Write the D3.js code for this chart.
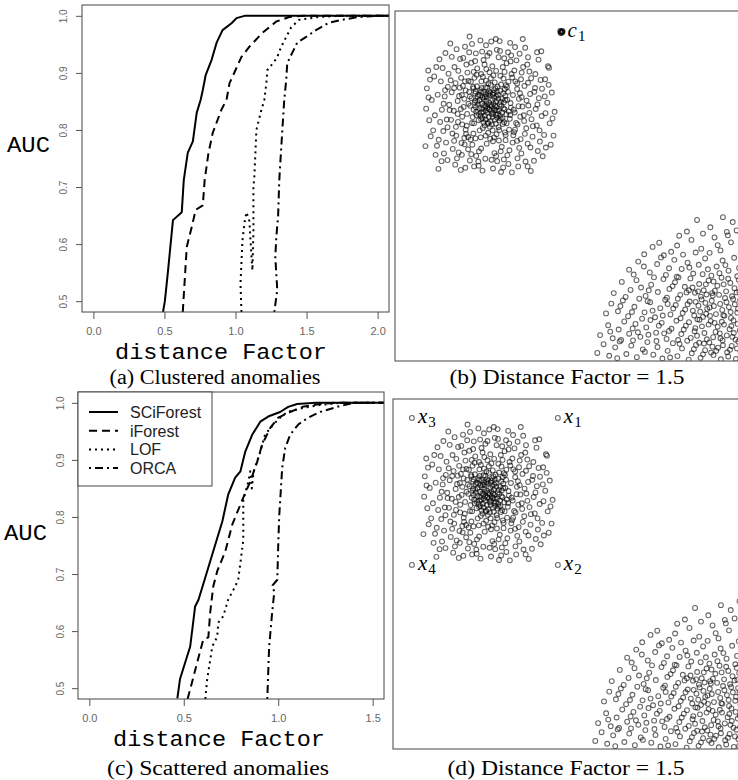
<!DOCTYPE html>
<html>
<head>
<meta charset="utf-8">
<script src="https://cdn.jsdelivr.net/npm/d3@7"></script>
<style>
body { margin: 0; background: #fff; }
</style>
</head>
<body>
<script>
//Width and height
var w = 738;
var h = 780;

//Tick values
var aucTicks = [0.5, 0.6, 0.7, 0.8, 0.9, 1.0];
var factorTicksA = [0.0, 0.5, 1.0, 1.5, 2.0];
var factorTicksC = [0.0, 0.5, 1.0, 1.5];
var methods = ["SCiForest", "iForest", "LOF", "ORCA"];

//(a) clustered anomalies: [distance factor, AUC]
var aSci = [[0.49,0.481],[0.503,0.50],[0.524,0.55],[0.56,0.642],[0.622,0.656],[0.636,0.712],[0.664,0.76],[0.70,0.78],[0.727,0.83],[0.755,0.853],[0.77,0.87],[0.79,0.896],[0.832,0.923],[0.867,0.953],[0.909,0.975],[0.972,0.987],[1.007,0.996],[1.063,1.0],[2.08,1.0]];
var aIf = [[0.629,0.481],[0.657,0.595],[0.692,0.63],[0.72,0.66],[0.77,0.668],[0.783,0.712],[0.81,0.76],[0.84,0.795],[0.90,0.835],[0.937,0.853],[0.958,0.882],[1.042,0.928],[1.098,0.946],[1.189,0.97],[1.287,0.99],[1.378,0.998],[1.48,1.0],[2.08,1.0]];
var aLof = [[1.042,0.481],[1.035,0.53],[1.049,0.607],[1.063,0.637],[1.077,0.656],[1.098,0.64],[1.112,0.58],[1.119,0.554],[1.126,0.62],[1.126,0.70],[1.133,0.72],[1.147,0.80],[1.182,0.835],[1.203,0.853],[1.217,0.882],[1.224,0.905],[1.273,0.92],[1.294,0.928],[1.322,0.946],[1.357,0.963],[1.392,0.98],[1.448,0.993],[1.587,0.998],[1.727,1.0],[2.08,1.0]];
var aOrca = [[1.273,0.481],[1.294,0.52],[1.28,0.577],[1.287,0.612],[1.30,0.65],[1.308,0.712],[1.322,0.77],[1.343,0.853],[1.357,0.888],[1.364,0.917],[1.399,0.935],[1.434,0.953],[1.497,0.963],[1.566,0.975],[1.657,0.988],[1.748,0.993],[1.867,0.998],[2.007,1.0],[2.08,1.0]];

//(c) scattered anomalies: [distance factor, AUC]
var cSci = [[0.466,0.482],[0.48,0.516],[0.534,0.573],[0.56,0.643],[0.578,0.655],[0.603,0.682],[0.656,0.74],[0.704,0.792],[0.735,0.839],[0.772,0.869],[0.80,0.88],[0.825,0.914],[0.862,0.944],[0.905,0.967],[0.947,0.976],[1.01,0.984],[1.053,0.993],[1.10,0.998],[1.2,1.0],[1.56,1.0]];
var cIf = [[0.52,0.481],[0.534,0.498],[0.571,0.545],[0.603,0.585],[0.63,0.589],[0.64,0.633],[0.656,0.678],[0.677,0.705],[0.72,0.74],[0.757,0.787],[0.815,0.834],[0.852,0.862],[0.889,0.897],[0.915,0.927],[0.958,0.956],[1.0,0.974],[1.063,0.984],[1.13,0.993],[1.22,0.998],[1.30,1.0],[1.56,1.0]];
var cLof = [[0.614,0.481],[0.624,0.516],[0.651,0.573],[0.677,0.59],[0.683,0.615],[0.709,0.626],[0.735,0.655],[0.772,0.678],[0.788,0.69],[0.80,0.72],[0.815,0.76],[0.815,0.83],[0.84,0.86],[0.852,0.88],[0.86,0.85],[0.87,0.88],[0.905,0.914],[0.93,0.944],[0.974,0.962],[1.01,0.974],[1.048,0.984],[1.13,0.991],[1.22,0.996],[1.33,1.0],[1.56,1.0]];
var cOrca = [[0.942,0.481],[0.952,0.573],[0.968,0.633],[0.979,0.668],[0.97,0.68],[0.995,0.69],[1.0,0.75],[1.005,0.80],[1.021,0.886],[1.037,0.921],[1.063,0.944],[1.106,0.962],[1.159,0.974],[1.222,0.984],[1.312,0.993],[1.40,1.0],[1.56,1.0]];

//Normal cluster (top left of (b) and (d)), plot units 0-100
var normalCluster = [
[27.2,73.1],[25.4,74.8],[29.1,71.6],[26.3,70.9],[28.4,75.2],[24.1,72.3],[30.2,74.0],[27.9,69.8],[23.6,75.6],[26.8,77.1],
[31.0,72.2],[25.0,69.4],[28.7,77.9],[22.8,73.9],[29.8,68.7],[26.0,76.2],[24.7,71.0],[30.9,76.5],[27.5,71.4],[23.3,70.2],
[28.1,73.6],[25.8,72.7],[29.5,75.0],[26.6,68.1],[31.8,70.5],[24.4,77.4],[27.0,75.9],[22.5,71.8],[30.4,72.9],[28.9,70.3],
[25.2,76.8],[26.9,71.9],[32.1,74.6],[23.9,68.8],[29.3,78.4],[27.7,67.6],[21.9,75.1],[30.7,69.4],[24.9,73.5],[28.3,72.1],
[26.1,74.3],[31.4,77.7],[23.0,77.0],[27.4,78.9],[25.6,67.3],[29.9,73.3],[24.2,74.6],[32.5,71.3],[26.4,72.4],[28.6,68.9],
[22.2,69.7],[30.1,77.2],[27.8,74.5],[25.3,71.2],[29.0,72.6],[23.8,76.1],[31.2,68.2],[26.7,79.3],[24.6,69.1],[28.2,76.6],
[21.5,72.9],[30.6,71.0],[27.1,66.9],[25.9,78.2],[33.0,73.7],[22.9,74.4],[29.6,66.8],[26.2,75.4],[28.8,74.1],[24.0,70.6],
[31.5,75.8],[27.6,72.8],[23.4,78.5],[30.3,79.0],[25.5,73.0],[28.0,70.8],[21.2,76.9],[32.8,69.2],[26.5,67.8],[29.4,76.0],
[24.3,75.9],[27.3,76.7],[22.6,67.9],[31.1,73.9],[25.7,70.1],[28.5,79.6],[23.1,72.5],[30.0,70.1],[26.9,73.8],[29.2,69.5],
[24.8,78.0],[27.9,65.9],[32.3,76.9],[22.3,78.3],[25.1,66.6],[30.8,67.7],[26.0,80.1],[28.6,71.7],[23.7,73.2],[31.7,78.8],
[27.0,72.0],[25.7,75.5],[28.6,73.0],[26.3,73.4],[27.9,76.1],[24.9,72.0],[29.7,71.5],[26.8,69.7],[25.0,75.3],[28.9,75.6],
[26.4,78.0],[27.7,70.5],[23.5,74.1],[30.6,74.9],[25.9,69.0],[29.1,77.0],[24.5,70.0],[30.2,69.3],[26.0,71.6],[28.3,77.4],
[23.2,71.2],[31.3,71.9],[27.2,68.5],[24.6,76.9],[29.4,70.6],[26.7,76.3],[22.9,76.4],[31.5,74.6],[25.3,68.2],[28.8,67.8],
[21.0,73.5],[33.1,72.4],[27.4,80.8],[26.6,65.2],[22.4,77.9],[31.9,67.9],[22.0,68.0],[32.0,78.3],[19.8,74.9],[34.2,71.0],
[25.1,81.2],[29.0,64.8],[20.6,70.6],[33.7,76.0],[24.2,65.9],[30.1,81.5],[19.4,78.6],[35.0,67.6],[23.3,81.8],[31.4,65.3],
[20.2,66.1],[34.4,79.9],[28.1,81.6],[25.9,64.4],[18.8,72.0],[35.3,72.8],[21.7,79.8],[32.6,66.1],[27.0,82.5],[28.3,63.9],
[19.2,67.6],[34.9,77.7],[23.0,63.6],[31.0,80.7],[21.4,75.6],[32.9,70.3],[24.7,79.9],[29.8,66.0],[20.0,79.9],[34.0,65.4],
[22.5,82.6],[31.6,63.1],[18.3,75.7],[35.8,69.8],[26.1,83.4],[28.0,62.8],[20.9,64.0],[33.3,82.0],[17.9,70.6],[36.2,75.4],
[17.9,74.3],[19.2,69.8],[18.5,78.1],[20.3,64.9],[16.8,71.5],[35.4,74.9],[36.8,70.2],[34.9,79.3],[37.5,66.5],[35.9,63.4],
[27.8,84.2],[23.5,83.6],[31.9,85.1],[20.7,82.4],[34.1,83.0],[26.2,62.1],[22.1,61.8],[30.5,61.2],[33.8,64.5],[19.8,63.7],
[16.2,76.8],[17.4,66.9],[38.1,73.0],[37.0,78.6],[39.0,69.1],[25.3,86.0],[29.6,86.8],[21.8,85.2],[36.2,82.4],[18.9,80.9],
[24.0,59.9],[28.4,59.4],[32.7,60.2],[20.9,60.5],[35.5,60.9],[15.5,73.2],[16.9,62.9],[38.6,76.3],[39.3,64.1],[14.8,69.0],
[33.2,87.3],[19.5,86.6],[27.0,88.0],[23.1,87.9],[37.8,84.7],[17.0,84.0],[15.9,80.2],[38.9,80.8],[40.2,72.0],[40.5,67.3],
[25.8,57.8],[31.1,57.6],[21.4,57.3],[35.0,57.9],[18.2,59.6],[14.2,75.6],[13.8,65.7],[41.1,75.1],[41.4,62.7],[30.0,88.6],
[20.2,77.3],[34.6,68.0],[19.6,72.6],[35.7,76.5],[33.5,81.0],[21.0,80.0],[24.6,82.0],[31.3,82.6],[28.9,82.9],[33.9,71.8],
[20.5,67.2],[34.3,66.1],[22.4,65.0],[31.6,64.6],[27.2,63.5],[24.5,63.9],[29.7,63.0],[19.1,76.0],[36.4,72.7],[18.0,68.3],
[36.9,68.6],[22.7,80.9],[32.4,79.8],[21.6,63.3],[33.6,62.4],[17.3,79.4],[36.0,80.5],[25.6,84.7],[30.8,84.0],[19.9,61.9],
[34.7,85.9],[16.4,65.0],[37.9,62.1],[23.2,58.6],[29.2,57.1],[38.4,82.7],[15.1,78.3],[40.0,78.0],[13.4,71.8],[41.9,70.0],
[15.6,71.7],[38.4,70.9],[16.9,78.0],[37.6,74.4],[17.5,64.4],[37.1,64.9],[22.9,85.7],[31.2,86.5],[24.6,60.7],[30.2,59.9],
[15.0,66.8],[39.4,67.1],[18.1,82.9],[36.6,84.0],[19.1,58.9],[34.9,62.9],[26.4,87.2],[28.9,58.6],[14.3,77.4],[39.8,76.9],
[16.0,68.9],[38.0,79.5],[20.4,84.7],[33.0,85.6],[21.8,59.1],[32.1,58.8],[13.9,73.5],[40.7,73.3],[16.5,60.6],[38.7,61.0],
[24.9,88.4],[29.1,88.9],[18.6,86.3],[35.6,87.8],[23.8,57.0],[27.6,57.5],[14.6,62.4],[41.3,65.9],[15.3,82.1],[40.1,82.0],
[19.0,62.3],[36.1,59.3],[12.9,68.3],[42.0,77.8],[21.2,88.2],[32.3,88.2],[17.7,57.9],[37.3,57.0],[13.1,79.9],[41.6,80.3],
[11.4,70.2],[43.0,70.8],[12.2,76.1],[42.6,64.6],[10.9,65.9],[43.9,78.9],[16.2,86.9],[38.0,86.8],[14.0,59.3],[40.8,60.0],
[20.0,89.8],[34.3,89.7],[26.0,90.2],[29.9,91.4],[22.6,55.6],[28.0,55.0],[32.4,56.3],[17.2,56.1],[37.9,55.6],[11.8,84.0],
[43.7,84.2],[9.6,75.3],[45.0,69.3],[12.5,63.2],[42.8,75.6],[10.0,80.4],[44.5,61.8],[13.3,57.1],[41.8,88.5],[15.8,90.7],
[10.5,74.6],[9.8,68.8],[11.2,81.3],[12.0,61.5],[9.1,77.9],[43.5,73.8],[44.2,67.9],[42.9,80.5],[44.8,76.7],[43.1,61.0],
[27.5,91.3],[22.0,90.6],[32.9,90.9],[17.6,89.1],[37.2,89.5],[25.0,54.4],[30.3,54.0],[20.1,55.2],[35.2,55.6],[15.0,57.4],
[12.7,86.2],[41.0,86.1],[39.7,57.2],[11.6,58.9],[45.3,64.4],[10.2,64.2],[8.9,72.1],[28.8,92.0],[24.4,91.6],[18.8,54.6],
[33.4,53.9],[13.6,83.7],[42.2,58.5],[40.6,88.2],[14.4,88.0],[23.9,55.8],[9.5,83.0],[44.0,83.8],[36.5,92.0],[21.3,92.7],
[12.4,54.9],[38.8,54.3],[45.6,71.2],[8.7,61.4],[30.9,55.3]
];

//Wide cluster (bottom right of (b) and (d)), plot units 0-100
var wideCluster = [
[86.3,40.3],[93.7,41.1],[90.1,38.2],[96.5,39.7],[83.4,37.0],[99.0,42.2],[88.0,36.4],[94.8,36.9],[81.2,35.8],[97.6,37.3],
[71.2,30.5],[75.5,33.8],[78.9,31.2],[84.7,34.6],[87.5,32.1],[91.3,35.3],[93.0,31.6],[96.0,33.9],[98.8,30.8],[80.6,33.0],
[76.8,30.2],[89.9,30.9],[85.9,31.0],[95.1,35.9],[73.6,32.6],[82.3,30.4],[92.2,33.1],[99.5,34.8],
[66.9,26.1],[69.5,28.4],[72.8,25.3],[74.9,27.7],[77.4,24.6],[79.8,28.9],[81.9,26.3],[83.6,28.1],[85.2,25.0],[86.8,27.5],
[88.6,29.3],[90.4,24.4],[91.9,27.0],[93.6,28.7],[95.3,25.8],[96.9,29.5],[98.3,26.6],[99.7,24.9],[71.1,27.0],[76.0,29.6],
[80.5,24.1],[84.1,26.7],[87.9,24.8],[94.4,27.4],[97.8,24.2],[89.4,26.2],[92.7,25.1],[78.3,26.5],[68.2,24.7],
[62.5,19.4],[64.8,22.6],[67.3,20.3],[69.0,23.1],[71.6,18.6],[73.2,21.8],[75.1,19.7],[76.7,23.4],[78.4,20.6],[80.0,22.5],
[81.5,18.9],[82.8,21.2],[84.4,23.6],[85.7,19.5],[86.9,22.0],[88.2,20.2],[89.6,23.0],[90.8,18.7],[92.1,21.5],[93.3,23.8],
[94.6,19.9],[95.8,22.3],[97.0,20.8],[98.2,23.2],[99.4,19.1],[65.9,18.3],[70.3,21.0],[74.0,23.9],[77.7,18.1],[79.3,21.4],
[83.3,19.6],[87.4,18.4],[91.4,20.1],[93.9,21.9],[96.3,18.5],[98.9,21.7],[85.0,21.0],[89.0,19.0],[81.0,23.9],[72.5,20.2],
[95.2,23.5],[97.6,19.6],[88.8,21.9],[84.0,20.2],
[60.3,13.6],[61.8,16.4],[63.7,14.2],[65.1,17.3],[66.6,12.8],[68.4,15.5],[69.8,17.8],[71.3,13.9],[72.9,16.8],[74.3,12.5],
[75.8,15.1],[77.2,17.5],[78.7,13.3],[80.2,16.0],[81.6,12.2],[82.9,14.7],[84.2,17.0],[85.5,13.0],[86.7,15.8],[88.0,12.6],
[89.2,14.9],[90.5,17.2],[91.7,13.4],[92.9,16.3],[94.1,12.9],[95.4,15.4],[96.6,17.7],[97.8,13.8],[99.0,16.1],[64.4,15.7],
[67.7,14.0],[70.6,12.1],[73.6,14.4],[76.5,13.0],[79.5,15.0],[83.6,16.2],[87.2,14.1],[90.0,12.9],[93.5,14.6],[96.0,12.3],
[98.6,17.4],[85.9,16.9],[88.7,16.6],[91.1,15.7],[94.7,16.8],[82.2,13.7],[77.9,16.3],[99.8,14.2],[72.2,17.1],[80.8,17.8],
[58.6,7.4],[60.9,10.2],[62.2,6.5],[63.9,9.0],[65.5,11.3],[66.9,7.8],[68.7,10.6],[70.1,6.9],[71.8,9.6],[73.0,11.7],
[74.6,8.1],[76.2,10.9],[77.6,6.3],[79.0,9.2],[80.4,11.5],[81.8,7.7],[83.1,10.1],[84.5,6.6],[85.8,9.4],[87.0,11.8],
[88.4,8.0],[89.6,10.4],[90.9,6.8],[92.2,9.8],[93.4,11.2],[94.8,7.3],[96.1,10.0],[97.3,6.1],[98.5,8.7],[99.6,11.0],
[61.5,8.4],[67.9,9.3],[72.4,7.5],[75.4,10.1],[78.3,8.6],[82.5,9.0],[86.3,7.2],[89.1,6.2],[91.6,8.3],[95.6,9.1],
[97.9,10.6],[84.0,11.1],[80.9,6.0],[93.0,6.5],[87.7,9.9],[64.6,6.0],[69.4,8.2],[99.2,6.4],[76.9,7.9],[90.2,11.4],
[57.8,2.3],[59.6,4.8],[61.2,1.5],[62.9,3.9],[64.2,5.6],[66.1,2.0],[67.5,4.4],[69.1,1.1],[70.8,3.3],[72.1,5.4],
[73.8,1.8],[75.0,4.0],[76.4,0.7],[77.9,2.9],[79.4,5.1],[80.7,1.4],[82.0,3.6],[83.5,5.8],[84.8,2.2],[86.0,4.6],
[87.3,0.9],[88.6,3.1],[89.8,5.3],[91.0,1.7],[92.3,3.8],[93.6,5.9],[94.9,2.5],[96.2,4.3],[97.4,0.6],[98.7,2.8],
[99.9,5.0],[63.5,0.8],[68.0,5.9],[71.4,2.6],[74.7,5.7],[78.6,1.0],[81.3,4.9],[85.4,3.4],[88.0,1.9],[90.7,4.1],
[93.1,0.5],[95.7,3.2],[98.1,5.5],[86.9,5.2],[83.9,0.4],[91.8,2.9],
[86.4,11.9],[88.9,13.5],[91.3,10.9],[93.8,13.1],[96.7,11.6],[98.0,14.9],[87.6,17.6],[90.6,19.4],[94.3,18.0],[97.1,16.2],
[99.3,12.6],[85.1,14.4],[89.9,15.3],[92.6,18.9],[95.9,14.0],[98.4,19.8],[86.6,19.9],[91.0,22.7],[94.0,10.4],[96.8,8.0],
[88.3,5.0],[92.8,7.9],[95.2,1.3],[97.7,3.6],[99.1,9.4],[85.6,8.5],[90.3,2.4],[93.7,4.5],[96.4,6.9],[98.9,0.9]
];

//Small anomaly cluster c1 in (b)
var anomalyCluster = [[47.4,94.1],[47.8,93.9],[47.6,94.3],[47.3,93.8],[47.9,94.2],[47.5,93.7],[47.7,94.0],[47.2,94.3]];
//Scattered anomalies in (d): [subscript, x, y]
var scatteredAnomalies = [["1",47.1,94.6],["2",47.1,52.6],["3",5.4,94.6],["4",5.4,52.6]];

var dashes = [null, "8,5", "2,4", "2,4,8,4"];

//Create SVG element
var svg = d3.select("body")
            .append("svg")
            .attr("width", w)
            .attr("height", h);

svg.append("rect").attr("width", w).attr("height", h).attr("fill", "#fff");

function linePanel(p) {
  var xScale = d3.scaleLinear().domain(p.xDomain).range([p.left, p.right]);
  var yScale = d3.scaleLinear().domain([0.481, 1.019]).range([p.bottom, p.top]);
  var g = svg.append("g");

  g.append("clipPath").attr("id", p.id)
    .append("rect")
    .attr("x", p.left).attr("y", p.top)
    .attr("width", p.right - p.left).attr("height", p.bottom - p.top);

  var line = d3.line()
    .x(function(d) { return xScale(d[0]); })
    .y(function(d) { return yScale(d[1]); });

  p.series.forEach(function(s, i) {
    g.append("path")
      .datum(s)
      .attr("d", line)
      .attr("clip-path", "url(#" + p.id + ")")
      .attr("fill", "none")
      .attr("stroke", "#000")
      .attr("stroke-width", 2)
      .attr("stroke-linejoin", "round")
      .attr("stroke-dasharray", dashes[i]);
  });

  g.append("rect")
    .attr("x", p.left).attr("y", p.top)
    .attr("width", p.right - p.left).attr("height", p.bottom - p.top)
    .attr("fill", "none").attr("stroke", "#444").attr("stroke-width", 1);

  var xAxis = d3.axisBottom(xScale).tickValues(p.xTicks)
    .tickFormat(d3.format(".1f")).tickSize(7).tickPadding(8);
  var gx = g.append("g")
    .attr("transform", "translate(0," + p.bottom + ")")
    .attr("color", "#555")
    .call(xAxis);
  gx.select(".domain").remove();
  gx.selectAll("text")
    .attr("font-family", "'Liberation Sans', Arial, sans-serif")
    .attr("font-size", 11).attr("fill", "#666");

  var yAxis = d3.axisLeft(yScale).tickValues(aucTicks)
    .tickFormat(d3.format(".1f")).tickSize(6);
  var gy = g.append("g")
    .attr("transform", "translate(" + p.left + ",0)")
    .attr("color", "#555")
    .call(yAxis);
  gy.select(".domain").remove();
  gy.selectAll("text")
    .attr("transform", "rotate(-90)")
    .attr("x", 0).attr("y", -(p.left - p.tickLabelX) + 4).attr("dy", 0)
    .attr("text-anchor", "middle")
    .attr("font-family", "'Liberation Sans', Arial, sans-serif")
    .attr("font-size", 10).attr("fill", "#666");

  g.append("text")
    .attr("x", p.aucX).attr("y", p.aucY)
    .attr("font-family", "'Liberation Mono', 'Courier New', monospace")
    .attr("font-size", 22)
    .attr("textLength", 43).attr("lengthAdjust", "spacingAndGlyphs")
    .text("AUC");

  g.append("text")
    .attr("x", p.titleX).attr("y", p.titleY)
    .attr("text-anchor", "middle")
    .attr("font-family", "'Liberation Mono', 'Courier New', monospace")
    .attr("font-size", 22)
    .attr("textLength", 212).attr("lengthAdjust", "spacingAndGlyphs")
    .text("distance Factor");

  g.append("text")
    .attr("x", p.capX).attr("y", p.capY)
    .attr("text-anchor", "middle")
    .attr("font-family", "'Liberation Serif', 'Times New Roman', serif")
    .attr("font-size", 20)
    .attr("textLength", p.capLen).attr("lengthAdjust", "spacingAndGlyphs")
    .text(p.caption);

  return g;
}

function scatterPanel(p) {
  var xScale = d3.scaleLinear().domain([0, 100]).range([p.left, p.left + 350]);
  var yScale = d3.scaleLinear().domain([0, 100]).range([p.bottom, p.bottom - 350]);
  var g = svg.append("g");

  g.append("clipPath").attr("id", p.id)
    .append("rect")
    .attr("x", p.left).attr("y", p.bottom - 350)
    .attr("width", 350).attr("height", 350);

  var pts = g.append("g").attr("clip-path", "url(#" + p.id + ")");
  p.clouds.forEach(function(cloud) {
    pts.selectAll(null)
      .data(cloud)
      .enter()
      .append("circle")
      .attr("cx", function(d) { return xScale(d[0]); })
      .attr("cy", function(d) { return yScale(d[1]); })
      .attr("r", 2.4)
      .attr("fill", "none")
      .attr("stroke", "#000")
      .attr("stroke-opacity", 0.6)
      .attr("stroke-width", 1.1);
  });

  g.append("rect")
    .attr("x", p.left).attr("y", p.bottom - 350)
    .attr("width", 350).attr("height", 350)
    .attr("fill", "none").attr("stroke", "#444").attr("stroke-width", 1);

  g.append("text")
    .attr("x", p.capX).attr("y", p.capY)
    .attr("text-anchor", "middle")
    .attr("font-family", "'Liberation Serif', 'Times New Roman', serif")
    .attr("font-size", 20)
    .attr("textLength", p.capLen).attr("lengthAdjust", "spacingAndGlyphs")
    .text("(" + p.letter + ") Distance Factor = 1.5");

  return { g: g, x: xScale, y: yScale };
}

function anomalyLabel(g, px, py, letter, sub) {
  var t = g.append("text")
    .attr("x", px + 6).attr("y", py + 5)
    .attr("font-family", "'Liberation Serif', 'Times New Roman', serif")
    .attr("font-size", 21);
  t.append("tspan").attr("font-style", "italic").text(letter);
  t.append("tspan").attr("font-size", 15).attr("dy", 4).attr("dx", 1).text(sub);
}

//(a)
linePanel({
  id: "clipA", left: 82, right: 389, top: 5, bottom: 312,
  xDomain: [-0.08, 2.08], xTicks: factorTicksA,
  series: [aSci, aIf, aLof, aOrca], tickLabelX: 63,
  aucX: 7, aucY: 152, titleX: 221, titleY: 359,
  capX: 215, capY: 384, capLen: 211, caption: "(a) Clustered anomalies"
});

//(c)
var gc = linePanel({
  id: "clipC", left: 78, right: 384, top: 392, bottom: 699,
  xDomain: [-0.06, 1.56], xTicks: factorTicksC,
  series: [cSci, cIf, cLof, cOrca], tickLabelX: 60,
  aucX: 4, aucY: 540, titleX: 219, titleY: 746,
  capX: 218, capY: 775, capLen: 222, caption: "(c) Scattered anomalies"
});

//Legend for (c)
var legend = gc.append("g");
legend.append("rect")
  .attr("x", 78).attr("y", 392).attr("width", 134).attr("height", 94)
  .attr("fill", "#fff").attr("stroke", "#444").attr("stroke-width", 1);
methods.forEach(function(m, i) {
  var ly = 412 + i * 18.7;
  legend.append("line")
    .attr("x1", 89).attr("x2", 118).attr("y1", ly).attr("y2", ly)
    .attr("stroke", "#000").attr("stroke-width", 2)
    .attr("stroke-dasharray", dashes[i]);
  legend.append("text")
    .attr("x", 130).attr("y", ly + 6)
    .attr("font-family", "'Liberation Sans', Arial, sans-serif")
    .attr("font-size", 16).attr("fill", "#222")
    .text(m);
});

//(b)
var pb = scatterPanel({ id: "clipB", left: 395, bottom: 361, clouds: [normalCluster, wideCluster, anomalyCluster],
  letter: "b", capX: 567, capY: 384, capLen: 235 });
anomalyLabel(pb.g, pb.x(47.6), pb.y(94.0), "c", "1");

//(d)
var pd = scatterPanel({ id: "clipD", left: 393, bottom: 749, clouds: [normalCluster, wideCluster],
  letter: "d", capX: 566, capY: 775, capLen: 237 });
pd.g.selectAll(null)
  .data(scatteredAnomalies)
  .enter()
  .append("circle")
  .attr("cx", function(d) { return pd.x(d[1]); })
  .attr("cy", function(d) { return pd.y(d[2]); })
  .attr("r", 2.4)
  .attr("fill", "none")
  .attr("stroke", "#000")
  .attr("stroke-opacity", 0.6)
  .attr("stroke-width", 1.1);
scatteredAnomalies.forEach(function(d) {
  anomalyLabel(pd.g, pd.x(d[1]), pd.y(d[2]), "x", d[0]);
});
</script>
</body>
</html>
